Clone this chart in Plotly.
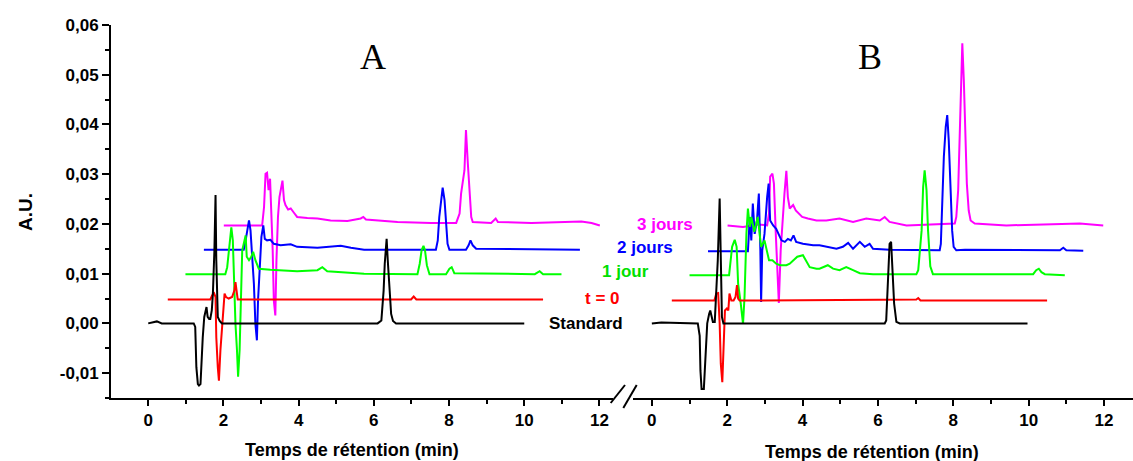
import plotly.graph_objects as go

# ---------------- data (time in min, absorbance in A.U.) ----------------
SERIES_NAMES = ["Standard", "t = 0", "1 jour", "2 jours", "3 jours"]
SERIES_COLORS = ["#000000", "#FF0000", "#00FF00", "#0000FF", "#FF00FF"]
LABEL_COLORS = ["#000000", "#FF0000", "#00E000", "#0000FF", "#FF00FF"]

A_STANDARD = [(0.0, 0.0), (0.14, 0.0003), (0.23, 0.0004), (0.36, 0.0), (1.21, 0.0), (1.25, -0.0007),
              (1.28, -0.0088), (1.32, -0.0122), (1.35, -0.0125), (1.39, -0.0122), (1.41, -0.0088),
              (1.45, -0.0028), (1.49, 0.0013), (1.55, 0.0033), (1.58, 0.0013), (1.62, 0.0009),
              (1.65, 0.0009), (1.69, 0.0026), (1.72, 0.006), (1.76, 0.0147), (1.79, 0.0258),
              (1.81, 0.0127), (1.85, 0.0013), (1.90, 0.0005), (1.96, 0.0), (6.10, 0.0), (6.20, 0.0006),
              (6.26, 0.0066), (6.29, 0.012), (6.34, 0.017), (6.37, 0.0127), (6.42, 0.006), (6.46, 0.0019),
              (6.51, 0.0005), (6.59, 0.0), (10.0, 0.0)]
A_T0 = [(0.52, 0.0048), (1.65, 0.0048), (1.70, 0.0056), (1.74, 0.0063), (1.79, 0.0053), (1.81, -0.0028),
        (1.85, -0.0088), (1.88, -0.0115), (1.92, -0.0054), (1.96, -0.0014), (1.99, 0.0033), (2.03, 0.006),
        (2.07, 0.0053), (2.14, 0.005), (2.23, 0.0053), (2.29, 0.0066), (2.32, 0.0083), (2.35, 0.006),
        (2.38, 0.0048), (6.99, 0.0048), (7.06, 0.0054), (7.13, 0.0048), (10.5, 0.0048)]
A_1J = [(0.99, 0.0099), (2.05, 0.0099), (2.10, 0.0113), (2.14, 0.0147), (2.19, 0.018), (2.21, 0.0193),
        (2.25, 0.0167), (2.28, 0.008), (2.32, -0.0001), (2.36, -0.0054), (2.39, -0.0107), (2.43, -0.0054),
        (2.46, 0.0066), (2.50, 0.0147), (2.54, 0.016), (2.59, 0.0177), (2.62, 0.0134), (2.68, 0.0127),
        (2.74, 0.0134), (2.79, 0.0144), (2.85, 0.0127), (2.94, 0.011), (3.25, 0.0108), (3.96, 0.0105),
        (4.50, 0.0107), (4.63, 0.0113), (4.76, 0.0105), (5.74, 0.01), (7.16, 0.0099), (7.22, 0.012),
        (7.27, 0.0147), (7.32, 0.0156), (7.36, 0.0147), (7.41, 0.0117), (7.48, 0.0099), (7.92, 0.0099),
        (8.01, 0.011), (8.07, 0.0113), (8.14, 0.0101), (10.28, 0.0099), (10.41, 0.0105), (10.50, 0.0099),
        (10.99, 0.0099)]
A_2J = [(1.48, 0.0148), (2.54, 0.0148), (2.59, 0.0167), (2.63, 0.0187), (2.68, 0.0207), (2.72, 0.0187),
        (2.76, 0.0147), (2.81, 0.008), (2.85, -0.0001), (2.89, -0.0034), (2.92, 0.0046), (2.97, 0.0134),
        (3.01, 0.0174), (3.06, 0.0197), (3.10, 0.017), (3.16, 0.0167), (3.25, 0.0168), (3.34, 0.016),
        (3.52, 0.0157), (3.79, 0.0159), (3.96, 0.0154), (4.50, 0.0152), (5.12, 0.0156), (5.39, 0.0152),
        (5.74, 0.0148), (7.65, 0.0148), (7.70, 0.0167), (7.74, 0.0214), (7.79, 0.0254), (7.83, 0.0273),
        (7.88, 0.0248), (7.92, 0.0194), (7.96, 0.016), (8.01, 0.0148), (8.45, 0.0148), (8.52, 0.0157),
        (8.57, 0.0167), (8.63, 0.0157), (8.72, 0.015), (11.48, 0.0148)]
A_3J = [(2.01, 0.0197), (3.03, 0.0197), (3.08, 0.0234), (3.12, 0.0301), (3.16, 0.0303), (3.20, 0.0268),
        (3.24, 0.0291), (3.27, 0.0241), (3.31, 0.0147), (3.34, 0.0046), (3.38, 0.0016), (3.41, 0.0127),
        (3.45, 0.0214), (3.49, 0.0254), (3.54, 0.0281), (3.57, 0.0287), (3.61, 0.0248), (3.65, 0.0238),
        (3.72, 0.0229), (3.79, 0.0231), (3.88, 0.0222), (3.96, 0.0214), (4.23, 0.0212), (4.50, 0.0211),
        (4.85, 0.0207), (5.30, 0.0206), (5.65, 0.0211), (5.72, 0.0214), (5.79, 0.0209), (6.10, 0.0207),
        (6.63, 0.0204), (7.52, 0.0202), (8.19, 0.0202), (8.28, 0.0221), (8.32, 0.0261), (8.41, 0.0308),
        (8.45, 0.0389), (8.50, 0.0321), (8.54, 0.0261), (8.59, 0.0214), (8.63, 0.0204), (9.12, 0.0202),
        (9.24, 0.0211), (9.30, 0.0204), (10.19, 0.0202), (11.52, 0.0205), (11.79, 0.0202), (12.01, 0.0197)]

B_STANDARD = [(0.0, 0.0), (0.25, 0.0002), (1.22, 0.0), (1.27, -0.0025), (1.29, -0.0095), (1.32, -0.0132),
              (1.38, -0.0132), (1.41, -0.0095), (1.44, -0.0034), (1.47, 0.0), (1.52, 0.0019), (1.55, 0.0026),
              (1.59, 0.0013), (1.62, 0.0003), (1.67, 0.0003), (1.71, 0.0066), (1.75, 0.0127), (1.80, 0.0251),
              (1.83, 0.0134), (1.86, 0.0013), (1.90, 0.0), (6.18, 0.0), (6.22, 0.0006), (6.27, 0.0113),
              (6.31, 0.016), (6.35, 0.0164), (6.38, 0.0113), (6.43, 0.004), (6.49, 0.0003), (6.58, 0.0),
              (9.97, 0.0)]
B_T0 = [(0.53, 0.0046), (1.66, 0.0046), (1.71, 0.006), (1.76, 0.0061), (1.80, 0.0), (1.83, -0.0081),
        (1.87, -0.0118), (1.90, -0.0054), (1.94, 0.0026), (1.99, 0.003), (2.03, 0.0026), (2.06, 0.006),
        (2.11, 0.0046), (2.17, 0.0046), (2.22, 0.0053), (2.26, 0.0077), (2.29, 0.005), (2.33, 0.0046),
        (7.02, 0.0048), (7.07, 0.0051), (7.13, 0.0046), (10.49, 0.0046)]
B_1J = [(1.00, 0.0097), (2.05, 0.0097), (2.13, 0.0154), (2.20, 0.0168), (2.25, 0.0154), (2.29, 0.008),
        (2.36, 0.004), (2.42, -0.0001), (2.46, 0.0053), (2.51, 0.018), (2.55, 0.0231), (2.60, 0.0194),
        (2.64, 0.0214), (2.72, 0.0184), (2.81, 0.0214), (2.90, 0.0154), (2.99, 0.0167), (3.05, 0.0147),
        (3.11, 0.0127), (3.20, 0.0127), (3.30, 0.012), (3.40, 0.0117), (3.57, 0.0117), (3.66, 0.012),
        (3.79, 0.013), (3.86, 0.0134), (4.01, 0.0137), (4.10, 0.0124), (4.19, 0.0113), (4.37, 0.011),
        (4.45, 0.011), (4.67, 0.0117), (4.81, 0.011), (4.98, 0.0107), (5.16, 0.0113), (5.34, 0.0107),
        (5.52, 0.0101), (5.87, 0.0099), (7.02, 0.0099), (7.07, 0.0107), (7.16, 0.0187), (7.20, 0.0274),
        (7.24, 0.0308), (7.29, 0.0268), (7.33, 0.0187), (7.39, 0.0115), (7.46, 0.0099), (10.12, 0.0099),
        (10.20, 0.0107), (10.27, 0.011), (10.34, 0.0103), (10.43, 0.0099), (10.96, 0.0097)]
B_2J = [(1.49, 0.0145), (2.55, 0.0145), (2.60, 0.0214), (2.64, 0.0167), (2.68, 0.0241), (2.73, 0.018),
        (2.79, 0.0207), (2.84, 0.0261), (2.88, 0.0147), (2.90, 0.0043), (2.93, 0.0147), (2.99, 0.018),
        (3.06, 0.0254), (3.10, 0.0281), (3.14, 0.0207), (3.22, 0.0197), (3.30, 0.019), (3.37, 0.018),
        (3.44, 0.0167), (3.53, 0.0164), (3.61, 0.017), (3.69, 0.0167), (3.76, 0.0177), (3.83, 0.0164),
        (4.01, 0.016), (4.28, 0.0157), (4.45, 0.0157), (4.90, 0.015), (5.07, 0.0154), (5.21, 0.0162),
        (5.34, 0.015), (5.52, 0.0164), (5.65, 0.0154), (5.78, 0.016), (5.87, 0.015), (6.31, 0.0148),
        (7.64, 0.0147), (7.67, 0.016), (7.71, 0.0254), (7.75, 0.0335), (7.80, 0.0395), (7.84, 0.0419),
        (7.88, 0.0368), (7.92, 0.0274), (7.97, 0.0187), (8.01, 0.0154), (8.08, 0.0147), (8.31, 0.0148),
        (10.83, 0.0147), (10.92, 0.0152), (11.00, 0.0147), (11.45, 0.0146)]
B_3J = [(2.01, 0.0197), (2.42, 0.0194), (2.84, 0.0199), (3.06, 0.0197), (3.11, 0.0221), (3.14, 0.0295),
        (3.20, 0.0301), (3.24, 0.0281), (3.29, 0.018), (3.33, 0.0093), (3.37, 0.0041), (3.42, 0.0147),
        (3.48, 0.0227), (3.52, 0.0261), (3.57, 0.0307), (3.61, 0.0254), (3.66, 0.0231), (3.75, 0.0238),
        (3.82, 0.0227), (3.91, 0.0221), (3.99, 0.0214), (4.14, 0.0211), (4.37, 0.0207), (4.63, 0.0207),
        (4.98, 0.0211), (5.34, 0.0204), (5.69, 0.0211), (6.05, 0.0207), (6.18, 0.0214), (6.31, 0.0204),
        (6.76, 0.0197), (8.04, 0.0201), (8.08, 0.0214), (8.13, 0.0268), (8.17, 0.0389), (8.21, 0.0489),
        (8.24, 0.0563), (8.28, 0.0489), (8.32, 0.0389), (8.36, 0.0281), (8.41, 0.0227), (8.46, 0.0207),
        (8.57, 0.0201), (9.41, 0.0197), (11.36, 0.0201), (11.98, 0.0197)]

PANEL_A = [A_STANDARD, A_T0, A_1J, A_2J, A_3J]
PANEL_B = [B_STANDARD, B_T0, B_1J, B_2J, B_3J]

X_TICKS = [0, 2, 4, 6, 8, 10, 12]
Y_TICKS = [-0.01, 0.0, 0.01, 0.02, 0.03, 0.04, 0.05, 0.06]
Y_TICKTEXT = ["-0,01", "0,00", "0,01", "0,02", "0,03", "0,04", "0,05", "0,06"]

# ---------------- figure ----------------
W, H = 1133, 461
ML, MR, MT, MB = 111, 0, 25, 63
PW, PH = W - ML - MR, H - MT - MB


def px(xpix):
    return (xpix - ML) / PW


def py(ypix):
    return (H - MB - ypix) / PH


fig = go.Figure()
order = [4, 3, 2, 1, 0]
for panel, xa in ((PANEL_A, "x"), (PANEL_B, "x2")):
    for i in order:
        pts = panel[i]
        fig.add_trace(go.Scatter(
            x=[p[0] for p in pts], y=[p[1] for p in pts], mode="lines",
            line=dict(color=SERIES_COLORS[i], width=2), name=SERIES_NAMES[i],
            xaxis=xa, yaxis="y", showlegend=False, hoverinfo="skip"))

tickfont = dict(family="Liberation Sans, Arial, sans-serif", size=17, color="black", weight="bold")
xcommon = dict(showline=True, linecolor="black", linewidth=2, ticks="outside", ticklen=6,
               tickwidth=2, tickcolor="black", tickvals=X_TICKS, showgrid=False, zeroline=False,
               tickfont=tickfont, anchor="y",
               minor=dict(ticks="outside", dtick=1, tick0=0, ticklen=4, tickwidth=1.5,
                          tickcolor="black", showgrid=False))

fig.update_layout(
    width=W, height=H, margin=dict(l=ML, r=MR, t=MT, b=MB),
    paper_bgcolor="white", plot_bgcolor="white", showlegend=False,
    xaxis=dict(domain=[0, px(613)], range=[-0.99, 12.36], **xcommon),
    xaxis2=dict(domain=[px(633), 1], range=[-0.5, 12.77], **xcommon),
    yaxis=dict(range=[-0.015, 0.06], showline=True, linecolor="black", linewidth=2,
               ticks="outside", ticklen=7, tickwidth=2, tickcolor="black",
               tickvals=Y_TICKS, ticktext=Y_TICKTEXT, showgrid=False, zeroline=False,
               tickfont=tickfont, anchor="x",
               minor=dict(ticks="outside", dtick=0.005, tick0=0, ticklen=4, tickwidth=1.5,
                          tickcolor="black", showgrid=False)),
)

ann = []
bold = dict(family="Liberation Sans, Arial, sans-serif", color="black", weight="bold")
ann.append(dict(text="A", x=px(373), y=py(57), font=dict(family="Liberation Serif, Times New Roman, serif", size=36, color="black")))
ann.append(dict(text="B", x=px(870), y=py(57), font=dict(family="Liberation Serif, Times New Roman, serif", size=36, color="black")))
ann.append(dict(text="Temps de rétention (min)", x=px(352), y=py(450), font=dict(size=18, **bold)))
ann.append(dict(text="Temps de rétention (min)", x=px(872), y=py(452), font=dict(size=18, **bold)))
ann.append(dict(text="A.U.", x=px(25), y=py(212), textangle=-90, font=dict(size=19, **bold)))
label_pos = [(586, 323), (602, 298), (625, 271), (645, 248), (665, 224)]
for i, (lx, ly) in enumerate(label_pos):
    ann.append(dict(text=SERIES_NAMES[i], x=px(lx), y=py(ly),
                    font=dict(family="Liberation Sans, Arial, sans-serif", size=17,
                              color=LABEL_COLORS[i], weight="bold")))
for a in ann:
    a.update(xref="paper", yref="paper", showarrow=False, xanchor="center", yanchor="middle")
fig.update_layout(annotations=ann)

# axis-break marks
for (x0, y0, x1, y1) in [(610.7, 403, 625, 385), (623.3, 408, 636.7, 385)]:
    fig.add_shape(type="line", xref="paper", yref="paper", x0=px(x0), y0=py(y0), x1=px(x1), y1=py(y1),
                  line=dict(color="black", width=2))

fig.write_html("out.html", config={"displayModeBar": False},
               post_script="document.body.style.margin='0';")
